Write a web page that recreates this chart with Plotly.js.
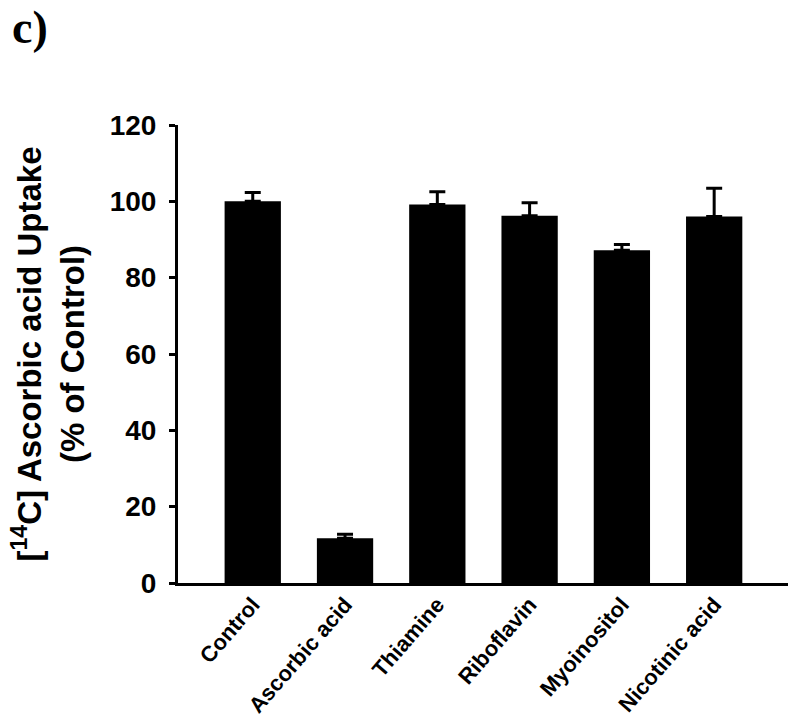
<!DOCTYPE html>
<html>
<head>
<meta charset="utf-8">
<script src="https://cdn.plot.ly/plotly-3.0.1.min.js"></script>
<style>html,body{margin:0;padding:0;background:#fff;}#chart{width:800px;height:726px;}</style>
</head>
<body>
<div id="chart"></div>
<script>
const categories = ["Control", "Ascorbic acid", "Thiamine", "Riboflavin", "Myoinositol", "Nicotinic acid"];
const uptake = [100.0, 11.7, 99.2, 96.2, 87.2, 96.0];
const errorPlus = [2.3, 1.1, 3.3, 3.4, 1.5, 7.4];
const yTicks = [0, 20, 40, 60, 80, 100, 120];

const trace = {
  type: 'bar',
  x: categories,
  y: uptake,
  marker: {color: '#000000', line: {width: 0}},
  error_y: {
    type: 'data',
    symmetric: false,
    array: errorPlus,
    arrayminus: errorPlus.map(() => 0),
    color: '#000000',
    thickness: 3,
    width: 8
  },
  hoverinfo: 'none'
};

const plotW = 800 - 178 - 12;
const plotH = 726 - 125 - 143;

const layout = {
  width: 800,
  height: 726,
  margin: {l: 178, r: 12, t: 125, b: 143, pad: 0},
  paper_bgcolor: '#ffffff',
  plot_bgcolor: '#ffffff',
  showlegend: false,
  bargap: 0.39,
  font: {family: 'Liberation Sans, Arial, sans-serif', color: '#000000'},
  xaxis: {
    type: 'category',
    range: [-0.81, 5.8],
    showline: true,
    linecolor: '#000000',
    linewidth: 3,
    ticks: '',
    showgrid: false,
    zeroline: false,
    tickangle: -49,
    ticklabelstandoff: -3,
    tickfont: {family: 'Liberation Sans, Arial, sans-serif', size: 22, color: '#000000', weight: 'bold'}
  },
  yaxis: {
    range: [0, 120],
    tickvals: yTicks,
    ticktext: yTicks.map(String),
    showline: true,
    linecolor: '#000000',
    linewidth: 3,
    ticks: 'outside',
    ticklen: 6,
    tickwidth: 3,
    tickcolor: '#000000',
    showgrid: false,
    zeroline: false,
    ticklabelstandoff: 7,
    tickfont: {family: 'Liberation Sans, Arial, sans-serif', size: 28, color: '#000000', weight: 'bold'},
    title: {
      text: '[<sup>14</sup>C] Ascorbic acid Uptake<br>(% of Control)',
      font: {family: 'Liberation Sans, Arial, sans-serif', size: 33, color: '#000000', weight: 'bold'},
      standoff: 16
    }
  },
  annotations: [{
    text: 'c)',
    xref: 'paper', yref: 'paper',
    x: -168 / plotW, y: 1 + 125 / plotH,
    xanchor: 'left', yanchor: 'top',
    showarrow: false,
    font: {family: 'Liberation Serif, Times New Roman, serif', size: 46, color: '#000000', weight: 'bold'}
  }]
};

Plotly.newPlot('chart', [trace], layout, {displayModeBar: false, staticPlot: true});
</script>
</body>
</html>
